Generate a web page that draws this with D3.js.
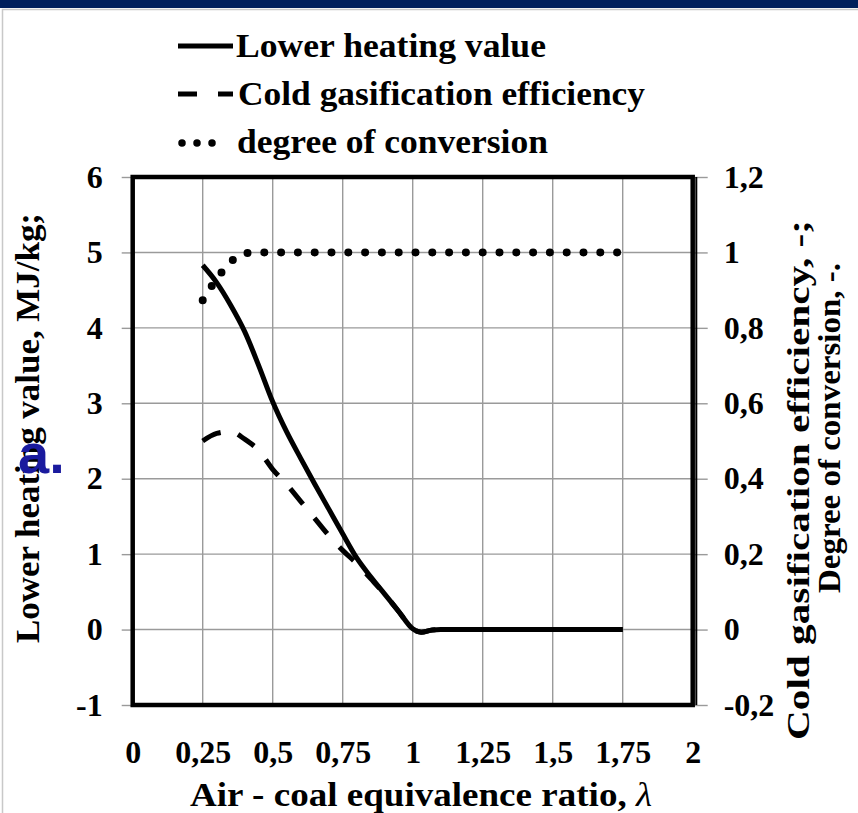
<!DOCTYPE html>
<html>
<head>
<meta charset="utf-8">
<script src="https://cdn.jsdelivr.net/npm/d3@7"></script>
<style>
  html, body { margin: 0; padding: 0; background: #fff; }
  svg { display: block; }
  .serif { font-family: "Liberation Serif", "Times New Roman", serif; font-weight: bold; fill: #000; }
</style>
</head>
<body>
<svg id="chart" width="858" height="813"></svg>
<script>
// Air - coal equivalence ratio (lambda) sample points
const lambdaValues = [0.25, 0.3, 0.35, 0.4, 0.45, 0.5, 0.55, 0.6, 0.65, 0.7, 0.75, 0.8, 0.85, 0.9, 0.95,
                      1.0, 1.03, 1.07, 1.1, 1.2, 1.3, 1.4, 1.5, 1.6, 1.7, 1.75];
// Lower heating value, MJ/kg (left axis)
const lhvValues = [4.83, 4.6, 4.3, 3.95, 3.5, 3.02, 2.62, 2.27, 1.93, 1.6, 1.27, 0.95, 0.7, 0.47, 0.24,
                   0.01, -0.035, -0.005, 0, 0, 0, 0, 0, 0, 0, 0];
// Cold gasification efficiency, - (right axis)
const cgeValues = [0.50, 0.52, 0.525, 0.505, 0.475, 0.425, 0.385, 0.34, 0.295, 0.25, 0.21, 0.175, 0.135, 0.094, 0.048,
                   0.002, -0.007, -0.001, 0, 0, 0, 0, 0, 0, 0, 0];
// Degree of conversion, - (right axis)
const docValues = [0.873, 0.93, 0.975, 0.998, 1, 1, 1, 1, 1, 1, 1, 1, 1, 1, 1,
                   1, 1, 1, 1, 1, 1, 1, 1, 1, 1, 1];

// Axis ticks and their labels (decimal comma)
const xTicks = [0, 0.25, 0.5, 0.75, 1, 1.25, 1.5, 1.75, 2];
const xTickLabels = ["0", "0,25", "0,5", "0,75", "1", "1,25", "1,5", "1,75", "2"];
const yLeftTicks = [-1, 0, 1, 2, 3, 4, 5, 6];
const yLeftTickLabels = ["-1", "0", "1", "2", "3", "4", "5", "6"];
const yRightTicks = [-0.2, 0, 0.2, 0.4, 0.6, 0.8, 1, 1.2];
const yRightTickLabels = ["-0,2", "0", "0,2", "0,4", "0,6", "0,8", "1", "1,2"];

const seriesNames = ["Lower heating value", "Cold gasification efficiency", "degree of conversion"];

const svg = d3.select("#chart");
const W = 858, H = 813;

// page frame: navy band at the top and a light grey panel outline
svg.append("rect").attr("x", 0).attr("y", 0).attr("width", W).attr("height", 8).attr("fill", "#001f5c");
svg.append("path").attr("d", `M2.5,${H} V9.5 H${W}`).attr("fill", "none").attr("stroke", "#c8c8c8").attr("stroke-width", 1.5);

const plot = { left: 132.7, right: 692.7, top: 177, bottom: 705 };

const x = d3.scaleLinear().domain([0, 2]).range([plot.left, plot.right]);
const yL = d3.scaleLinear().domain([-1, 6]).range([plot.bottom, plot.top]);
const yR = d3.scaleLinear().domain([-0.2, 1.2]).range([plot.bottom, plot.top]);

// gridlines
const grid = svg.append("g").attr("stroke", "#9a9a9a").attr("stroke-width", 1.4);
xTicks.slice(1, -1).forEach(t => {
  grid.append("line").attr("x1", x(t)).attr("x2", x(t)).attr("y1", plot.top).attr("y2", plot.bottom);
});
yLeftTicks.slice(1, -1).forEach(t => {
  grid.append("line").attr("x1", plot.left).attr("x2", plot.right).attr("y1", yL(t)).attr("y2", yL(t));
});

// axes
const tickFont = "32px";
const leftAxis = d3.axisLeft(yL).tickValues(yLeftTicks)
  .tickFormat((d, i) => yLeftTickLabels[i]).tickSize(11).tickPadding(19).tickSizeOuter(0);
const gl = svg.append("g").attr("transform", `translate(${plot.left},0)`).call(leftAxis);
gl.select(".domain").remove();
gl.selectAll(".tick line").attr("stroke", "#9a9a9a").attr("stroke-width", 1.4);
gl.selectAll(".tick text").attr("class", "serif").style("font-size", tickFont);

const rightAxis = d3.axisRight(yR).tickValues(yRightTicks)
  .tickFormat((d, i) => yRightTickLabels[i]).tickSize(15).tickPadding(16).tickSizeOuter(0);
const gr = svg.append("g").attr("transform", `translate(${plot.right},0)`).call(rightAxis);
gr.select(".domain").remove();
gr.selectAll(".tick line").attr("stroke", "#9a9a9a").attr("stroke-width", 1.4);
gr.selectAll(".tick text").attr("class", "serif").style("font-size", tickFont);

const bottomAxis = d3.axisBottom(x).tickValues(xTicks)
  .tickFormat((d, i) => xTickLabels[i]).tickSize(0).tickPadding(35);
const gb = svg.append("g").attr("transform", `translate(0,${plot.bottom})`).call(bottomAxis);
gb.select(".domain").remove();
gb.selectAll(".tick text").attr("class", "serif").style("font-size", tickFont);

// plot border (thick) plus the secondary-axis line along the right edge
svg.append("rect").attr("x", plot.left).attr("y", plot.top)
  .attr("width", plot.right - plot.left).attr("height", plot.bottom - plot.top)
  .attr("fill", "none").attr("stroke", "#000").attr("stroke-width", 4.5);
svg.append("line").attr("x1", plot.right + 3.6).attr("x2", plot.right + 3.6)
  .attr("y1", plot.top).attr("y2", plot.bottom).attr("stroke", "#000").attr("stroke-width", 2);

// series
const idx = d3.range(lambdaValues.length);
const lineL = d3.line().x(i => x(lambdaValues[i])).y(i => yL(lhvValues[i])).curve(d3.curveMonotoneX);
const lineC = d3.line().x(i => x(lambdaValues[i])).y(i => yR(cgeValues[i])).curve(d3.curveMonotoneX);
const lineD = d3.line().x(i => x(lambdaValues[i])).y(i => yR(docValues[i])).curve(d3.curveMonotoneX);

svg.append("path").attr("d", lineC(idx)).attr("fill", "none").attr("stroke", "#000")
  .attr("stroke-width", 5).attr("stroke-dasharray", "20 18");
svg.append("path").attr("d", lineL(idx)).attr("fill", "none").attr("stroke", "#000")
  .attr("stroke-width", 5).attr("stroke-linejoin", "round");
svg.append("path").attr("d", lineD(idx)).attr("fill", "none").attr("stroke", "#000")
  .attr("stroke-width", 8).attr("stroke-linecap", "round").attr("stroke-dasharray", "0 16.8");

// legend
const legend = svg.append("g");
legend.append("line").attr("x1", 178).attr("x2", 233).attr("y1", 46).attr("y2", 46)
  .attr("stroke", "#000").attr("stroke-width", 5);
legend.append("line").attr("x1", 178).attr("x2", 233).attr("y1", 94).attr("y2", 94)
  .attr("stroke", "#000").attr("stroke-width", 5).attr("stroke-dasharray", "19 21");
legend.append("line").attr("x1", 182).attr("x2", 213).attr("y1", 143).attr("y2", 143)
  .attr("stroke", "#000").attr("stroke-width", 7.5).attr("stroke-linecap", "round").attr("stroke-dasharray", "0 15");
const legendY = [57, 105, 153];
const legendX = [236, 238, 237];
const legendLen = [310, 407, 311];
seriesNames.forEach((n, i) => {
  legend.append("text").attr("class", "serif").attr("x", legendX[i]).attr("y", legendY[i])
    .attr("textLength", legendLen[i]).attr("lengthAdjust", "spacingAndGlyphs")
    .style("font-size", "33px").text(n);
});

// axis titles
svg.append("text").attr("class", "serif")
  .attr("transform", "translate(39,428) rotate(-90)").attr("text-anchor", "middle")
  .attr("textLength", 430).attr("lengthAdjust", "spacingAndGlyphs")
  .style("font-size", "34px").text("Lower heating value, MJ/kg;");
svg.append("text").attr("class", "serif")
  .attr("transform", "translate(809,480) rotate(-90)").attr("text-anchor", "middle")
  .attr("textLength", 520).attr("lengthAdjust", "spacingAndGlyphs")
  .style("font-size", "32px").text("Cold gasification efficiency, -;");
svg.append("text").attr("class", "serif")
  .attr("transform", "translate(840,428) rotate(-90)").attr("text-anchor", "middle")
  .attr("textLength", 330).attr("lengthAdjust", "spacingAndGlyphs")
  .style("font-size", "32px").text("Degree of conversion, -.");

const xt = svg.append("text").attr("class", "serif").attr("x", 190).attr("y", 806)
  .attr("textLength", 462).attr("lengthAdjust", "spacingAndGlyphs")
  .style("font-size", "34px");
xt.append("tspan").text("Air - coal equivalence ratio, ");
xt.append("tspan").style("font-style", "italic").style("font-weight", "normal").text("λ");

// panel tag
svg.append("text").attr("x", 18).attr("y", 473)
  .style("font-family", "'Liberation Sans', Arial, sans-serif").style("font-weight", "bold")
  .style("font-size", "56px").attr("fill", "#1a1a9e").text("a.");
</script>
</body>
</html>
